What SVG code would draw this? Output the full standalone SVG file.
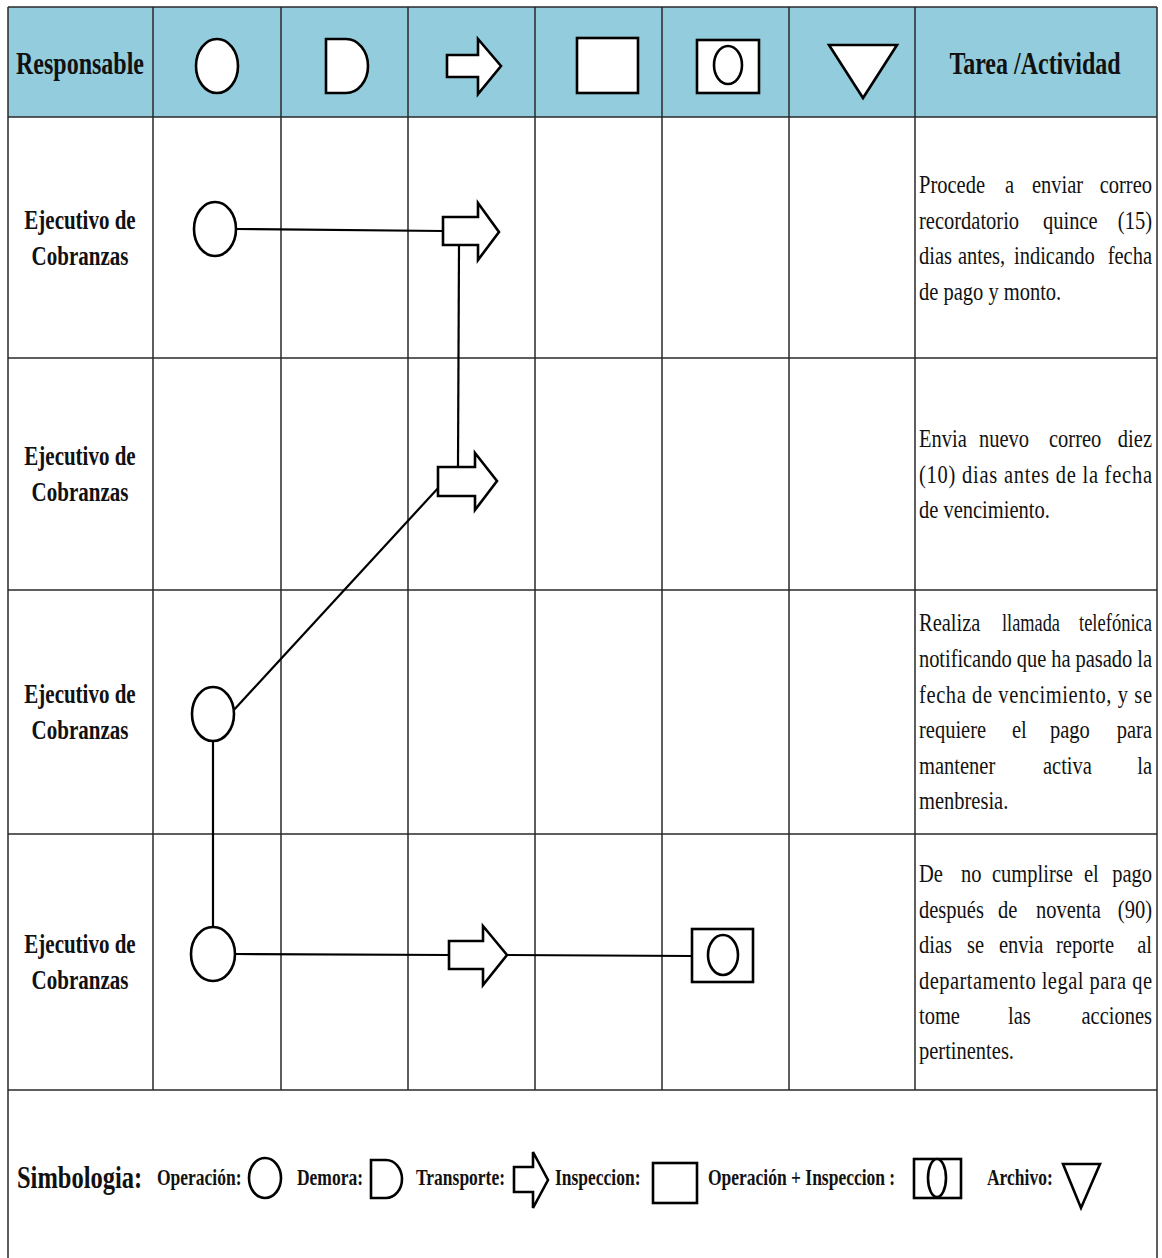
<svg xmlns="http://www.w3.org/2000/svg" width="1162" height="1258" viewBox="0 0 1162 1258">
<style>
.grid{stroke:#2a2a2a;stroke-width:1.5;fill:none}
.sh{fill:#fff;stroke:#000;stroke-width:2.6;stroke-linejoin:miter}
.cn{stroke:#000;stroke-width:2.2;fill:none}
text{font-family:"Liberation Serif","Times New Roman",serif;fill:#111}
.hb{font-size:24px;font-weight:bold;text-anchor:middle}
.rl{font-size:21px;font-weight:bold;text-anchor:middle}
.d{font-size:20.5px}
.e{text-anchor:end}
.lg{font-size:17.5px;font-weight:bold}
.lt{font-size:24.5px;font-weight:bold}
</style>
<rect x="0" y="0" width="1162" height="1258" fill="#fff"/>
<g id="table">
<rect x="8" y="7" width="1149" height="110" fill="#93CDDD"/>
<path class="grid" d="M8,7 H1157 M8,117 H1157 M8,358 H1157 M8,590 H1157 M8,834 H1157 M8,1090 H1157 M8,7 V1258 M1157,7 V1258 M153,7 V1090 M281,7 V1090 M408,7 V1090 M535,7 V1090 M662,7 V1090 M789,7 V1090 M915,7 V1090"/>
</g>
<g id="header">
<g transform="translate(80,74) scale(1,1.28)"><text class="hb" x="0" y="0">Responsable</text></g>
<ellipse class="sh" cx="217" cy="66" rx="21" ry="27"/>
<path class="sh" d="M326,39 H346 A22,27 0 0 1 346,93 H326 Z"/>
<path class="sh" d="M447,55 H478 V39 L501,66 L478,94 V77 H447 Z"/>
<rect class="sh" x="577" y="38" width="61" height="55"/>
<rect class="sh" x="697" y="40" width="62" height="53"/>
<ellipse class="sh" cx="728" cy="65" rx="14" ry="19"/>
<path class="sh" d="M829,45 H897 L863,98 Z"/>
<g transform="translate(1035,74) scale(1,1.28)"><text class="hb" x="0" y="0">Tarea /Actividad</text></g>
</g>
<g id="labels">
<g transform="translate(80,229) scale(1,1.28)"><text class="rl" x="0" y="0">Ejecutivo de</text></g>
<g transform="translate(80,265) scale(1,1.28)"><text class="rl" x="0" y="0">Cobranzas</text></g>
<g transform="translate(80,465) scale(1,1.28)"><text class="rl" x="0" y="0">Ejecutivo de</text></g>
<g transform="translate(80,501) scale(1,1.28)"><text class="rl" x="0" y="0">Cobranzas</text></g>
<g transform="translate(80,703) scale(1,1.28)"><text class="rl" x="0" y="0">Ejecutivo de</text></g>
<g transform="translate(80,739) scale(1,1.28)"><text class="rl" x="0" y="0">Cobranzas</text></g>
<g transform="translate(80,953) scale(1,1.28)"><text class="rl" x="0" y="0">Ejecutivo de</text></g>
<g transform="translate(80,989) scale(1,1.28)"><text class="rl" x="0" y="0">Cobranzas</text></g>
</g>
<g id="connectors">
<path class="cn" d="M236,229 L443,231"/>
<path class="cn" d="M459,245 L458,467"/>
<path class="cn" d="M232,712 L440,486"/>
<path class="cn" d="M213,741 L213,927"/>
<path class="cn" d="M235,954 L449,955"/>
<path class="cn" d="M507,955 L692,956"/>
</g>
<g id="n1"><ellipse class="sh" cx="215" cy="229" rx="21" ry="27"/></g>
<g id="n2"><path class="sh" d="M443,217 H478 V203 L499,232 L478,260 V245 H443 Z"/></g>
<g id="n3"><path class="sh" d="M438,467 H475 V453 L497,481 L475,510 V496 H438 Z"/></g>
<g id="n4"><ellipse class="sh" cx="213" cy="714" rx="21" ry="27"/></g>
<g id="n5"><ellipse class="sh" cx="213" cy="954" rx="22" ry="27"/></g>
<g id="n6"><path class="sh" d="M449,941 H483 V926 L507,955 L483,985 V969 H449 Z"/></g>
<g id="n7"><rect class="sh" x="692" y="929" width="61" height="53"/><ellipse class="sh" cx="723" cy="955" rx="15" ry="20"/></g>
<g id="desc1" class="d">
<g transform="translate(0,193) scale(1,1.28)"><text x="919" y="0">Procede</text><text x="1005" y="0">a</text><text x="1032" y="0">enviar</text><text class="e" x="1152" y="0">correo</text></g>
<g transform="translate(0,229) scale(1,1.28)"><text x="919" y="0">recordatorio</text><text x="1043" y="0">quince</text><text class="e" x="1152" y="0">(15)</text></g>
<g transform="translate(0,264) scale(1,1.28)"><text x="919" y="0">dias</text><text x="958" y="0">antes,</text><text x="1014" y="0">indicando</text><text class="e" x="1152" y="0">fecha</text></g>
<g transform="translate(0,300) scale(1,1.28)"><text x="919" y="0">de pago y monto.</text></g>
</g>
<g id="desc2" class="d">
<g transform="translate(0,447) scale(1,1.28)"><text x="919" y="0">Envia</text><text x="979" y="0">nuevo</text><text x="1049" y="0">correo</text><text class="e" x="1152" y="0">diez</text></g>
<g transform="translate(0,483) scale(1,1.28)"><text x="919" y="0" textLength="233" lengthAdjust="spacing">(10) dias antes de la fecha</text></g>
<g transform="translate(0,518) scale(1,1.28)"><text x="919" y="0">de vencimiento.</text></g>
</g>
<g id="desc3" class="d">
<g transform="translate(0,631) scale(1,1.28)"><text x="919" y="0">Realiza</text><text x="1002" y="0" textLength="58" lengthAdjust="spacingAndGlyphs">llamada</text><text x="1079" y="0" textLength="73" lengthAdjust="spacingAndGlyphs">telefónica</text></g>
<g transform="translate(0,667) scale(1,1.28)"><text x="919" y="0" textLength="233" lengthAdjust="spacing">notificando que ha pasado la</text></g>
<g transform="translate(0,703) scale(1,1.28)"><text x="919" y="0" textLength="233" lengthAdjust="spacing">fecha de vencimiento, y se</text></g>
<g transform="translate(0,738) scale(1,1.28)"><text x="919" y="0">requiere</text><text x="1012" y="0">el</text><text x="1050" y="0">pago</text><text class="e" x="1152" y="0">para</text></g>
<g transform="translate(0,774) scale(1,1.28)"><text x="919" y="0">mantener</text><text x="1043" y="0">activa</text><text class="e" x="1152" y="0">la</text></g>
<g transform="translate(0,809) scale(1,1.28)"><text x="919" y="0">menbresia.</text></g>
</g>
<g id="desc4" class="d">
<g transform="translate(0,882) scale(1,1.28)"><text x="919" y="0">De</text><text x="961" y="0">no</text><text x="992" y="0">cumplirse</text><text x="1084" y="0">el</text><text class="e" x="1152" y="0">pago</text></g>
<g transform="translate(0,918) scale(1,1.28)"><text x="919" y="0">después</text><text x="998" y="0">de</text><text x="1036" y="0">noventa</text><text class="e" x="1152" y="0">(90)</text></g>
<g transform="translate(0,953) scale(1,1.28)"><text x="919" y="0">dias</text><text x="967" y="0">se</text><text x="999" y="0">envia</text><text x="1056" y="0">reporte</text><text class="e" x="1152" y="0">al</text></g>
<g transform="translate(0,989) scale(1,1.28)"><text x="919" y="0" textLength="233" lengthAdjust="spacing">departamento legal para qe</text></g>
<g transform="translate(0,1024) scale(1,1.28)"><text x="919" y="0">tome</text><text x="1008" y="0">las</text><text class="e" x="1152" y="0">acciones</text></g>
<g transform="translate(0,1059) scale(1,1.28)"><text x="919" y="0">pertinentes.</text></g>
</g>
<g id="legend">
<g transform="translate(0,1188) scale(1,1.28)"><text class="lt" x="17" y="0">Simbologia:</text></g>
<g transform="translate(0,1185) scale(1,1.28)">
<text class="lg" x="157" y="0">Operación:</text>
<text class="lg" x="297" y="0">Demora:</text>
<text class="lg" x="416" y="0">Transporte:</text>
<text class="lg" x="555" y="0">Inspeccion:</text>
<text class="lg" x="708" y="0">Operación + Inspeccion :</text>
<text class="lg" x="987" y="0">Archivo:</text>
</g>
<ellipse class="sh" cx="265" cy="1178" rx="16" ry="20"/>
<path class="sh" d="M371,1160 H386 A16,19 0 0 1 386,1198 H371 Z"/>
<path class="sh" d="M514,1167 H533 V1152 L548,1180 L533,1208 V1192 H514 Z"/>
<rect class="sh" x="653" y="1163" width="44" height="40"/>
<rect class="sh" x="914" y="1159" width="47" height="39"/>
<ellipse class="sh" cx="937" cy="1178" rx="9" ry="19"/>
<path class="sh" d="M1063,1164 H1100 L1081,1208 Z"/>
</g>
</svg>
